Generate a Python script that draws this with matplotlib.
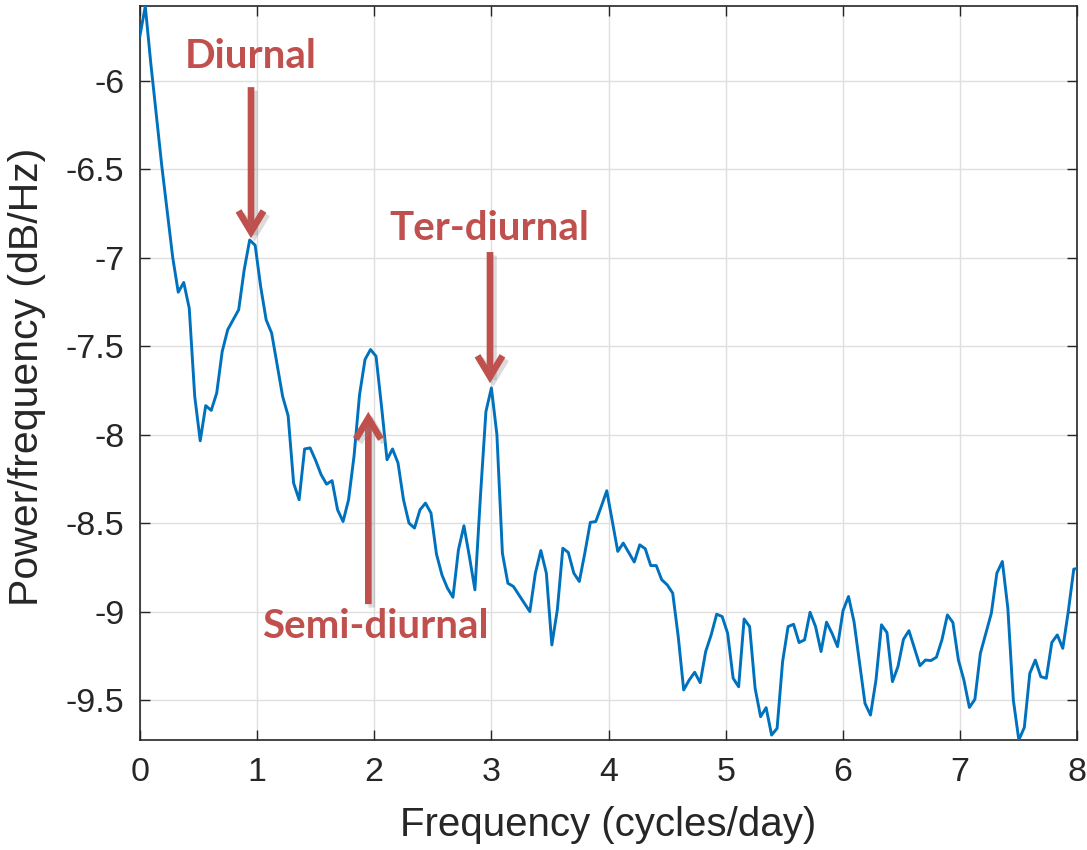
import numpy as np
import matplotlib
matplotlib.use("Agg")
import matplotlib.pyplot as plt
import matplotlib.patheffects as pe

# ---- data -------------------------------------------------------------
# spectral resolution (cycles/day): hourly samples, 512-point FFT
df = 24.0 / 512.0

psd_db = [
    -5.75, -5.579, -5.90, -6.19, -6.48, -6.74, -7.00, -7.195, -7.14, -7.285,
    -7.784, -8.035, -7.836, -7.863, -7.765, -7.53, -7.407, -7.351, -7.294, -7.069,
    -6.90, -6.93, -7.163, -7.351, -7.426, -7.605, -7.784, -7.893, -8.274, -8.368,
    -8.081, -8.075, -8.145, -8.226, -8.28, -8.26, -8.425, -8.491, -8.368, -8.12,
    -7.774, -7.575, -7.519, -7.557, -7.84, -8.142, -8.081, -8.160, -8.368, -8.50,
    -8.528, -8.425, -8.387, -8.443, -8.675, -8.793, -8.868, -8.919, -8.651, -8.515,
    -8.69, -8.877, -8.35, -7.87, -7.736, -8.0, -8.67, -8.84, -8.858, -8.906,
    -8.953, -9.0, -8.783, -8.655, -8.783, -9.189, -8.99, -8.642, -8.666, -8.783,
    -8.830, -8.670, -8.496, -8.491, -8.406, -8.317, -8.49, -8.66, -8.613, -8.666,
    -8.72, -8.623, -8.645, -8.74, -8.74, -8.82, -8.849, -8.896, -9.14, -9.443,
    -9.387, -9.343, -9.402, -9.226, -9.132, -9.015, -9.028, -9.123, -9.377, -9.425,
    -9.042, -9.085, -9.434, -9.594, -9.543, -9.698, -9.66, -9.283, -9.085, -9.072,
    -9.175, -9.16, -9.004, -9.085, -9.226, -9.06, -9.123, -9.198, -8.995, -8.915,
    -9.057, -9.29, -9.519, -9.585, -9.387, -9.075, -9.119, -9.396, -9.311, -9.157,
    -9.108, -9.208, -9.306, -9.274, -9.277, -9.258, -9.16, -9.019, -9.062, -9.274,
    -9.387, -9.542, -9.496, -9.236, -9.123, -9.009, -8.783, -8.717, -8.981, -9.5,
    -9.726, -9.655, -9.349, -9.274, -9.368, -9.377, -9.175, -9.132, -9.208, -9.0,
    -8.76, -8.755,
]
freq = df * np.arange(len(psd_db))

x_ticks = [0, 1, 2, 3, 4, 5, 6, 7, 8]
y_ticks = [-9.5, -9, -8.5, -8, -7.5, -7, -6.5, -6]
y_ticklabels = ["-9.5", "-9", "-8.5", "-8", "-7.5", "-7", "-6.5", "-6"]

# annotations: label, label position (x, baseline y), arrow tail, arrow tip
ann_labels = ["Diurnal", "Ter-diurnal", "Semi-diurnal"]
ann_text_xy = [(0.945, -5.928), (2.98, -6.90), (2.006, -9.15)]
ann_tail = [(0.949, -6.036), (2.988, -6.968), (1.950, -8.958)]
ann_tip = [(0.949, -6.89), (2.988, -7.709), (1.950, -7.871)]

# ---- style ------------------------------------------------------------
plt.rcParams['font.family'] = ['Liberation Sans', 'DejaVu Sans']
plt.rcParams['axes.unicode_minus'] = False

line_color = '#0072BD'
ann_color = '#C0504D'
axis_color = '#262626'

fig = plt.figure(figsize=(10.87, 8.5), dpi=100)
ax = fig.add_axes([0.1286, 0.1294, 0.8626, 0.8632])

ax.plot(freq, psd_db, color=line_color, lw=2.1, zorder=3)

ax.set_xlim(0, 8)
ax.set_ylim(-9.726, -5.579)
ax.set_xticks(x_ticks)
ax.set_xticklabels([str(t) for t in x_ticks])
ax.set_yticks(y_ticks)
ax.set_yticklabels(y_ticklabels)

ax.grid(True, color='#dfdfdf', lw=1.0, zorder=0)
ax.set_axisbelow(True)
for s in ax.spines.values():
    s.set_color(axis_color)
    s.set_linewidth(1.2)

ax.tick_params(axis='both', direction='in', length=7, width=1.0,
               color=axis_color, labelcolor=axis_color, labelsize=24.5,
               top=True, right=True)
ax.tick_params(axis='x', pad=12)
ax.tick_params(axis='y', pad=11)

ax.set_xlabel('Frequency (cycles/day)', fontsize=29, color=axis_color)
ax.set_ylabel('Power/frequency (dB/Hz)', fontsize=29.5, color=axis_color)
ax.xaxis.set_label_coords(0.5, -0.090)
ax.yaxis.set_label_coords(-0.100, 0.495)

shadow = [pe.SimpleLineShadow(offset=(2.5, -2.5), shadow_color='#888888', alpha=0.3),
          pe.Normal()]

for lab, txy, tail, tip in zip(ann_labels, ann_text_xy, ann_tail, ann_tip):
    ax.text(txy[0], txy[1], lab, ha='center', va='baseline',
            fontsize=29, fontweight='bold', color=ann_color,
            family=['Lato', 'DejaVu Sans'], zorder=5)
    ax.annotate('', xy=tip, xytext=tail, xycoords='data', textcoords='data',
                arrowprops=dict(arrowstyle='->,head_length=0.6,head_width=0.36',
                                mutation_scale=25, lw=4.8, color=ann_color,
                                shrinkA=0, shrinkB=0, capstyle='butt',
                                joinstyle='miter',
                                path_effects=shadow),
                zorder=6)

fig.savefig('out.png', dpi=100)
